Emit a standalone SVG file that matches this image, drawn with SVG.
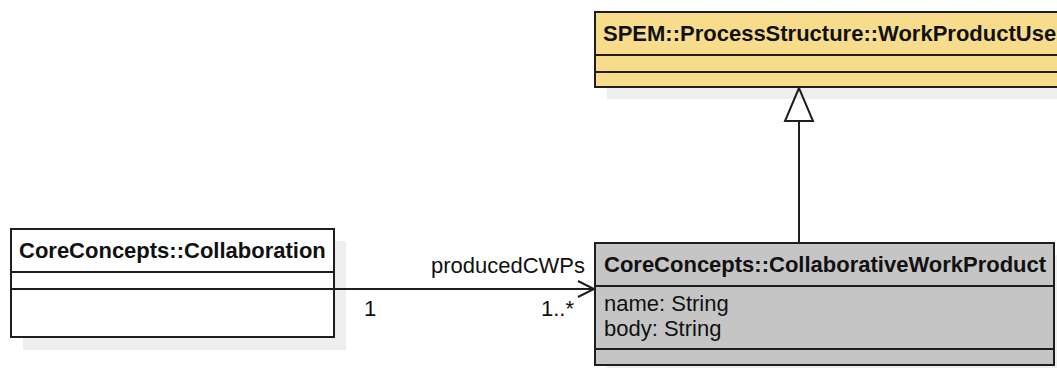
<svg xmlns="http://www.w3.org/2000/svg" width="1057" height="368" viewBox="0 0 1057 368">
<style>
.box{stroke:#1e1e1e;stroke-width:2}
.div{stroke:#1e1e1e;stroke-width:2}
.sh{fill:#eeeeee}
.t{font-family:"Liberation Sans",Arial,sans-serif;font-size:22px;fill:#111}
.b{font-weight:bold}
.ln{stroke:#1e1e1e;stroke-width:2;fill:none}
</style>
<rect width="1057" height="368" fill="#ffffff"/>
<g id="node-workproductuse">
<rect class="sh" x="607" y="24" width="460" height="75"/>
<rect class="box" x="595" y="12" width="470" height="75" fill="#f7dd8b"/>
<line class="div" x1="595" y1="55" x2="1065" y2="55"/>
<line class="div" x1="595" y1="72" x2="1065" y2="72"/>
<text class="t b" x="603" y="41">SPEM::ProcessStructure::WorkProductUse</text>
</g>
<g id="node-collaboration">
<rect class="sh" x="23" y="241" width="323" height="109"/>
<rect class="box" x="11" y="229" width="323" height="108" fill="#ffffff"/>
<line class="div" x1="11" y1="272" x2="334" y2="272"/>
<line class="div" x1="11" y1="289" x2="334" y2="289"/>
<text class="t b" x="19" y="258">CoreConcepts::Collaboration</text>
</g>
<g id="node-collaborativeworkproduct">
<rect class="sh" x="607" y="255" width="459" height="122"/>
<rect class="box" x="595" y="243" width="459" height="122" fill="#c6c5c6"/>
<line class="div" x1="595" y1="286" x2="1054" y2="286"/>
<line class="div" x1="595" y1="349" x2="1054" y2="349"/>
<text class="t b" x="604" y="272">CoreConcepts::CollaborativeWorkProduct</text>
<text class="t" x="604" y="311">name: String</text>
<text class="t" x="604" y="336">body: String</text>
</g>
<g id="connectors">
<line class="ln" x1="799" y1="243" x2="799" y2="121"/>
<polygon class="ln" points="799,88 785,121 813,121" fill="#ffffff"/>
<line class="ln" x1="334" y1="289" x2="594" y2="289"/>
<polyline class="ln" points="578,281 594,289 578,297"/>
<text class="t" x="585" y="273" text-anchor="end">producedCWPs</text>
<text class="t" x="364" y="316">1</text>
<text class="t" x="574" y="316" text-anchor="end">1..*</text>
</g>
</svg>
